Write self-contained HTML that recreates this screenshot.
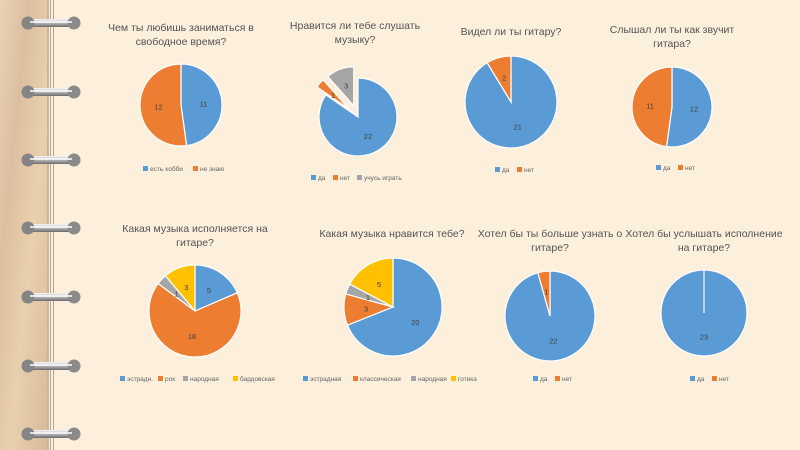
<!DOCTYPE html>
<html><head><meta charset="utf-8"><style>
html,body{margin:0;padding:0;width:800px;height:450px;overflow:hidden;background:#fcefdc;}
svg{display:block}
text{font-family:"Liberation Sans","DejaVu Sans",sans-serif;}
</style></head><body>
<svg id="s" width="800" height="450" xmlns="http://www.w3.org/2000/svg">
<defs>
<linearGradient id="tex" x1="0" y1="0" x2="1" y2="1">
<stop offset="0" stop-color="#e9d3b4"/><stop offset="0.3" stop-color="#dcbfa0"/><stop offset="0.6" stop-color="#e8d0ae"/><stop offset="1" stop-color="#d9b99a"/></linearGradient>
<linearGradient id="ring" x1="0" y1="0" x2="0" y2="1">
<stop offset="0" stop-color="#f4f4f4"/><stop offset="0.5" stop-color="#b8b8b8"/><stop offset="1" stop-color="#6a6a6a"/></linearGradient>
</defs>
<rect x="0" y="0" width="800" height="450" fill="#fcefdc"/>
<rect x="0" y="0" width="48" height="450" fill="url(#tex)"/>
<rect x="47" y="0" width="2" height="450" fill="#c9b59a"/>
<rect x="50" y="0" width="1" height="450" fill="#b8a68c"/>
<rect x="53" y="0" width="1" height="450" fill="#b8a68c"/>
<g id="rings"></g>
<g id="charts"></g>
<g fill="#555" font-size="10.5" text-anchor="middle">
<text x="181" y="31">Чем ты любишь заниматься в</text>
<text x="181" y="45">свободное время?</text>
<text x="355" y="29">Нравится ли тебе слушать</text>
<text x="355" y="43">музыку?</text>
<text x="511" y="35">Видел ли ты гитару?</text>
<text x="672" y="33">Слышал ли ты как звучит</text>
<text x="672" y="47">гитара?</text>
<text x="195" y="232">Какая музыка исполняется на</text>
<text x="195" y="246">гитаре?</text>
<text x="392" y="237">Какая музыка нравится тебе?</text>
<text x="550" y="237">Хотел бы ты больше узнать о</text>
<text x="550" y="251">гитаре?</text>
<text x="704" y="237">Хотел бы услышать исполнение</text>
<text x="704" y="251">на гитаре?</text>
</g>
</svg>
<script>
var B="#5b9bd5",O="#ed7d31",G="#a5a5a5",Y="#ffc000";
var ns="http://www.w3.org/2000/svg";
function el(n,a,p){var e=document.createElementNS(ns,n);for(var k in a)e.setAttribute(k,a[k]);p.appendChild(e);return e;}
var R=document.getElementById("rings");
[23,92,160,228,297,366,434].forEach(function(y){
 el("rect",{x:24,y:y-4,width:52,height:8,rx:4,fill:"url(#ring)"},R);
 el("circle",{cx:28,cy:y,r:6.5,fill:"#858585"},R);
 el("circle",{cx:74,cy:y,r:6.5,fill:"#8a8a8a"},R);
 el("rect",{x:30,y:y-2,width:42,height:2,fill:"#fafafa",opacity:0.8},R);
});
var C=document.getElementById("charts");
function pie(cx,cy,r,vals,cols,explode){
 var t=vals.reduce(function(a,b){return a+b},0),a=0;
 vals.forEach(function(v,i){
  if(v<=0)return;
  var a0=a,a1=a+v/t*2*Math.PI;a=a1;
  var ox=0,oy=0;
  if(explode&&explode[i]){var m=(a0+a1)/2;ox=Math.sin(m)*explode[i];oy=-Math.cos(m)*explode[i];}
  var x=cx+ox,y=cy+oy;
  if(v/t>=0.999){el("circle",{cx:x,cy:y,r:r,fill:cols[i],stroke:"#fff","stroke-width":1.2},C);
    el("line",{x1:x,y1:y,x2:x,y2:y-r,stroke:"#fff","stroke-width":1.2},C);}
  else{
  var x0=x+Math.sin(a0)*r,y0=y-Math.cos(a0)*r,x1=x+Math.sin(a1)*r,y1=y-Math.cos(a1)*r;
  el("path",{d:"M"+x+","+y+"L"+x0+","+y0+"A"+r+","+r+" 0 "+((a1-a0)>Math.PI?1:0)+" 1 "+x1+","+y1+"Z",fill:cols[i],stroke:"#fff","stroke-width":1.2},C);}
  var tx=el("text",{x:x+Math.sin((a0+a1)/2)*r*0.55,y:y-Math.cos((a0+a1)/2)*r*0.55+3,"font-size":"7.5",fill:"#404040","text-anchor":"middle"},C);
  tx.textContent=v;
 });
}
function legend(x,y,items){
 items.forEach(function(it){
  el("rect",{x:x,y:y-5,width:5,height:5,fill:it[1]},C);
  var t=el("text",{x:x+7,y:y,"font-size":"6.5",fill:"#666"},C);t.textContent=it[0];
  x+=it[2];
 });
}
pie(181,105,41,[11,12],[B,O]);
pie(358,117,39,[22,1,3],[B,O,G],[0,12,12]);
pie(511,102,46,[21,2],[B,O]);
pie(672,107,40,[12,11],[B,O]);
pie(195,311,46,[5,18,1,3],[B,O,G,Y]);
pie(393,307,49,[20,3,1,5],[B,O,G,Y]);
pie(550,316,45,[22,1],[B,O]);
pie(704,313,43,[23,0],[B,O]);
legend(143,171,[["есть хобби",B,50],["не знаю",O,40]]);
legend(311,180,[["да",B,22],["нет",O,24],["учусь играть",G,50]]);
legend(495,172,[["да",B,22],["нет",O,24]]);
legend(656,170,[["да",B,22],["нет",O,24]]);
legend(120,381,[["эстрадн.",B,38],["рок",O,25],["народная",G,50],["бардовская",Y,50]]);
legend(303,381,[["эстрадная",B,50],["классическая",O,58],["народная",G,40],["готика",Y,40]]);
legend(533,381,[["да",B,22],["нет",O,24]]);
legend(690,381,[["да",B,22],["нет",O,24]]);
</script>
</body></html>
